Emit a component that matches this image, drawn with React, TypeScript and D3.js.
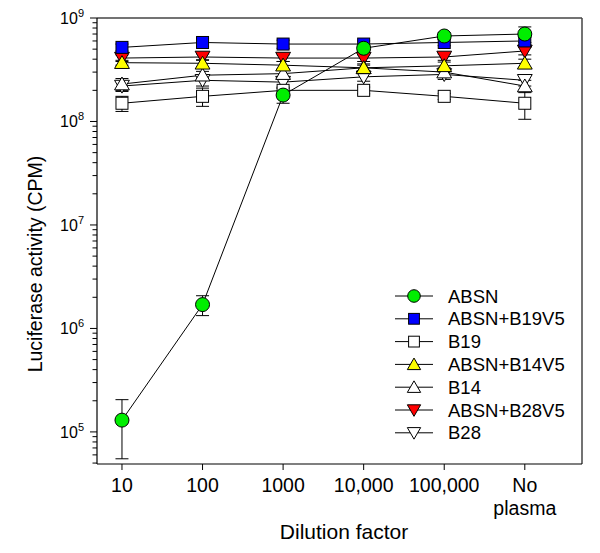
import * as d3 from "d3";

// dilution points along x (No plasma is the control)
const categories = ["10", "100", "1000", "10,000", "100,000", "No plasma"];
const decades = [5, 6, 7, 8, 9];

const seriesNames = ["ABSN", "ABSN+B19V5", "B19", "ABSN+B14V5", "B14", "ABSN+B28V5", "B28"];
const seriesFill = ["#00ee00", "#0000ff", "#ffffff", "#ffff00", "#ffffff", "#ff0000", "#ffffff"];
const seriesShape = ["circle", "square", "square", "up", "up", "down", "down"];

const absn = [1.3e5, 1.7e6, 1.8e8, 5.1e8, 6.7e8, 7.0e8];
const absnErr = [7.5e4, 3.7e5, 3.0e7, 5e7, 5e7, 1.2e8];
const absnB19 = [5.2e8, 5.8e8, 5.6e8, 5.6e8, 5.8e8, 6.0e8];
const absnB19Err = [4e7, 5e7, 5e7, 4e7, 4e7, 5e7];
const b19 = [1.5e8, 1.75e8, 2.0e8, 2.0e8, 1.75e8, 1.5e8];
const b19Err = [2.5e7, 3.5e7, 1.5e7, 1.5e7, 1.2e7, 4.5e7];
const absnB14 = [3.7e8, 3.65e8, 3.5e8, 3.3e8, 3.45e8, 3.65e8];
const absnB14Err = [2e7, 3e7, 3e7, 2e7, 3e7, 3.5e7];
const b14 = [2.3e8, 2.8e8, 2.9e8, 3.3e8, 3.0e8, 2.2e8];
const b14Err = [3e7, 2.5e7, 3e7, 3e7, 3e7, 3e7];
const absnB28 = [4.1e8, 4.2e8, 4.1e8, 4.1e8, 4.2e8, 4.8e8];
const absnB28Err = [3e7, 3e7, 3e7, 3e7, 3e7, 4e7];
const b28 = [2.2e8, 2.5e8, 2.4e8, 2.7e8, 2.85e8, 2.5e8];
const b28Err = [2.5e7, 3e7, 3e7, 2.5e7, 3e7, 3e7];

const seriesValues = [absn, absnB19, b19, absnB14, b14, absnB28, b28];
const seriesErrors = [absnErr, absnB19Err, b19Err, absnB14Err, b14Err, absnB28Err, b28Err];

const W = 600;
const H = 553;
const left = 97;
const right = 582;
const top = 18;
const bottom = 464;
const font = "'Liberation Sans', Arial, sans-serif";

const x = d3.scaleLinear().domain([-0.31, 5.71]).range([left, right]);
const y = d3.scaleLog().domain([Math.pow(10, 4.69), 1e9]).range([bottom, top]);

function Marker({ shape, cx, cy, fill, k = 1 }: { shape: string; cx: number; cy: number; fill: string; k?: number }) {
  if (shape === "circle") {
    return <circle cx={cx} cy={cy} r={7 * k} fill={fill} stroke="#000" strokeWidth={1} />;
  }
  if (shape === "square") {
    const s = 12 * k;
    return <rect x={cx - s / 2} y={cy - s / 2} width={s} height={s} fill={fill} stroke="#000" strokeWidth={1} />;
  }
  const sym = d3.symbol().type(d3.symbolTriangle).size(95 * k * k)();
  const rot = shape === "down" ? 180 : 0;
  const dy = shape === "down" ? -1.5 * k : 1.5 * k;
  return (
    <path
      d={sym || ""}
      transform={`translate(${cx},${cy + dy}) rotate(${rot})`}
      fill={fill}
      stroke="#000"
      strokeWidth={1}
    />
  );
}

export default function App() {
  const line = d3
    .line<number>()
    .x((_, i) => x(i))
    .y((d) => y(d));

  const minorTicks: number[] = [];
  for (let e = 4; e <= 8; e++) {
    for (let m = 2; m <= 9; m++) {
      const v = m * Math.pow(10, e);
      if (v >= y.domain()[0] && v <= 1e9) minorTicks.push(v);
    }
  }

  // draw in reverse legend order so ABSN ends on top
  const order = seriesNames.map((_, i) => i).reverse();

  return (
    <svg width={W} height={H} style={{ position: "absolute", left: 0, top: 0 }} fontFamily={font}>
      <rect width={W} height={H} fill="#fff" />

      {/* frame */}
      <line x1={left} x2={right} y1={top} y2={top} stroke="#444" strokeWidth={1.5} />
      <line x1={right} x2={right} y1={top} y2={bottom} stroke="#444" strokeWidth={1.5} />
      <line x1={left} x2={left} y1={top} y2={bottom} stroke="#000" strokeWidth={1.2} />
      <line x1={left} x2={right} y1={bottom} y2={bottom} stroke="#000" strokeWidth={1.2} />

      {/* y ticks */}
      {minorTicks.map((v) => (
        <line key={v} x1={left - 4.5} x2={left} y1={y(v)} y2={y(v)} stroke="#000" strokeWidth={1} />
      ))}
      {decades.map((e) => {
        const v = Math.pow(10, e);
        return (
          <g key={e}>
            <line x1={left - 7} x2={left} y1={y(v)} y2={y(v)} stroke="#000" strokeWidth={1} />
            <text x={84} y={y(v) + 6} textAnchor="end" fontSize={16} fill="#000">
              10<tspan fontSize={11} dy={-7}>{e}</tspan>
            </text>
          </g>
        );
      })}

      {/* x ticks */}
      {categories.map((c, i) => (
        <g key={c}>
          <line x1={x(i)} x2={x(i)} y1={bottom} y2={bottom + 6} stroke="#000" strokeWidth={1} />
          {c === "No plasma" ? (
            <text x={x(i)} textAnchor="middle" fontSize={19.5} fill="#000">
              <tspan x={x(i)} y={492}>No</tspan>
              <tspan x={x(i)} y={515}>plasma</tspan>
            </text>
          ) : (
            <text x={x(i)} y={492} textAnchor="middle" fontSize={19.5} fill="#000">
              {c}
            </text>
          )}
        </g>
      ))}

      <text x={344} y={539} textAnchor="middle" fontSize={21} fill="#000">
        Dilution factor
      </text>
      <text transform="translate(42,264) rotate(-90)" textAnchor="middle" fontSize={19.5} fill="#000">
        Luciferase activity (CPM)
      </text>

      {/* series */}
      {order.map((s) => (
        <g key={seriesNames[s]}>
          <path d={line(seriesValues[s]) || ""} fill="none" stroke="#000" strokeWidth={1} />
          {seriesValues[s].map((v, i) => {
            const e = seriesErrors[s][i];
            const y1 = y(v + e);
            const y2 = y(Math.max(v - e, 1));
            return (
              <g key={i}>
                <line x1={x(i)} x2={x(i)} y1={y1} y2={y2} stroke="#000" strokeWidth={1} />
                <line x1={x(i) - 6.5} x2={x(i) + 6.5} y1={y1} y2={y1} stroke="#000" strokeWidth={1} />
                <line x1={x(i) - 6.5} x2={x(i) + 6.5} y1={y2} y2={y2} stroke="#000" strokeWidth={1} />
              </g>
            );
          })}
        </g>
      ))}
      {order.map((s) => (
        <g key={"m" + seriesNames[s]}>
          {seriesValues[s].map((v, i) => (
            <Marker key={i} shape={seriesShape[s]} cx={x(i)} cy={y(v)} fill={seriesFill[s]} />
          ))}
        </g>
      ))}

      {/* legend */}
      {seriesNames.map((n, i) => {
        const cy = 296 + i * 22.8;
        return (
          <g key={n}>
            <line x1={395} x2={433} y1={cy} y2={cy} stroke="#000" strokeWidth={1} />
            <Marker shape={seriesShape[i]} cx={414} cy={cy} fill={seriesFill[i]} k={0.9} />
            <text x={448} y={cy + 6.5} fontSize={18.5} fill="#000">
              {n}
            </text>
          </g>
        );
      })}
    </svg>
  );
}
